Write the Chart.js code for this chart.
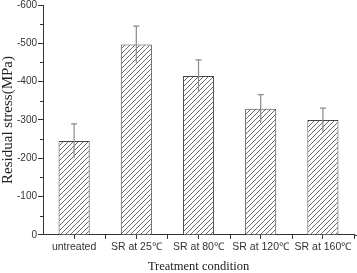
<!DOCTYPE html>
<html>
<head>
<meta charset="utf-8">
<script src="https://cdn.jsdelivr.net/npm/chart.js@4/dist/chart.umd.min.js"></script>
<style>
  html, body { margin: 0; padding: 0; background: #fff; }
  #wrap { width: 357px; height: 273px; position: relative; }
</style>
</head>
<body>
<div id="wrap"><canvas id="bars"></canvas></div>
<script>
// data
const categories = ["untreated", "SR at 25\u2103", "SR at 80\u2103", "SR at 120\u2103", "SR at 160\u2103"];
const stress = [-245, -497, -415, -329, -300];
const stressErr = [45, 48, 42, 37, 31];
const yTicks = [-600, -500, -400, -300, -200, -100, 0];

// hatch fill
function hatch() {
  const c = document.createElement("canvas");
  c.width = 5; c.height = 5;
  const g = c.getContext("2d");
  g.fillStyle = "#fff";
  g.fillRect(0, 0, 5, 5);
  g.strokeStyle = "#6a6a6a";
  g.lineWidth = 1;
  g.beginPath();
  g.moveTo(-1, 6); g.lineTo(6, -1);
  g.moveTo(-1, 1); g.lineTo(1, -1);
  g.moveTo(4, 6); g.lineTo(6, 4);
  g.stroke();
  return g.createPattern(c, "repeat");
}

const extras = {
  id: "extras",
  afterDatasetsDraw(chart) {
    const ctx = chart.ctx;
    const x = chart.scales.x, y = chart.scales.y;
    const meta = chart.getDatasetMeta(0);
    ctx.save();
    // error bars
    ctx.strokeStyle = "#8a8a8a";
    ctx.lineWidth = 1.2;
    meta.data.forEach((bar, i) => {
      const top = y.getPixelForValue(stress[i] - stressErr[i]);
      const low = y.getPixelForValue(stress[i] + stressErr[i]);
      ctx.beginPath();
      ctx.moveTo(bar.x, low); ctx.lineTo(bar.x, top);
      ctx.moveTo(bar.x - 3, top); ctx.lineTo(bar.x + 3, top);
      ctx.stroke();
    });
    // minor ticks
    ctx.strokeStyle = "#333";
    ctx.lineWidth = 1;
    ctx.beginPath();
    for (let v = -550; v < 0; v += 100) {
      const py = Math.round(y.getPixelForValue(v)) + 0.5;
      ctx.moveTo(x.left - 3, py); ctx.lineTo(x.left, py);
    }
    const half = (x.getPixelForValue(1) - x.getPixelForValue(0)) / 2;
    for (let i = 0; i < categories.length; i++) {
      const px = Math.round(x.getPixelForValue(i) + half) + 0.5;
      ctx.moveTo(px, y.bottom); ctx.lineTo(px, y.bottom + 4);
    }
    // axis runs a little past the last category
    ctx.moveTo(x.right, y.bottom + 0.5); ctx.lineTo(chart.width, y.bottom + 0.5);
    ctx.stroke();
    ctx.restore();
  }
};

const barConfig = {
  type: "bar",
  data: {
    labels: categories,
    datasets: [
      {
        label: "Residual stress",
        data: stress,
        backgroundColor: hatch(),
        borderColor: "#444",
        borderWidth: 1,
        categoryPercentage: 1,
        barPercentage: 0.5,
      },
    ],
  },
  options: {
    responsive: true,
    maintainAspectRatio: false,
    animation: false,
    layout: { padding: { top: 0, right: 3, left: 0, bottom: 0 } },
    plugins: {
      legend: { display: false },
      tooltip: { enabled: false },
    },
    scales: {
      x: {
        grid: { display: true, drawOnChartArea: false, offset: false, tickLength: 4, color: "#333" },
        border: { color: "#333", width: 1 },
        ticks: { color: "#333", font: { family: "Liberation Sans", size: 10.5 }, padding: 2, maxRotation: 0, autoSkip: false },
        title: { display: true, text: "Treatment condition", color: "#222", font: { family: "Liberation Serif", size: 12.5, lineHeight: 1 }, padding: { top: 5, bottom: 0 } },
      },
      y: {
        reverse: true,
        min: -600,
        max: 0,
        afterBuildTicks(scale) { scale.ticks = yTicks.map(v => ({ value: v })); },
        grid: { display: true, drawOnChartArea: false, tickLength: 5, color: "#333" },
        border: { color: "#333", width: 1 },
        ticks: { color: "#333", font: { family: "Liberation Sans", size: 10, lineHeight: 0.8 }, padding: 1 },
        title: { display: true, text: "Residual stress(MPa)", color: "#222", font: { family: "Liberation Serif", size: 15, lineHeight: 1 }, padding: { top: 1, bottom: 0 } },
      },
    },
  },
  plugins: [extras],
};

const barsCtx = document.getElementById("bars");
window.myBar = new Chart(barsCtx, barConfig);
</script>
</body>
</html>
